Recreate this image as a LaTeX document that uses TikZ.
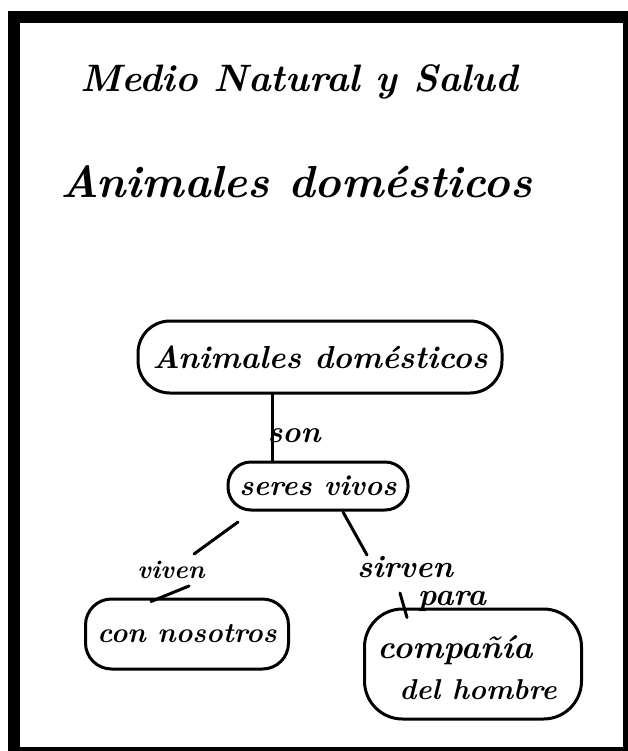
\documentclass[tikz,border=0pt]{standalone}
\usepackage{fontspec}
\newcommand{\hw}[2]{\resizebox{#1}{!}{\bfseries\itshape #2}}
\begin{document}
\begin{tikzpicture}[x=1pt,y=-1pt,
  blob/.style={draw,line width=3pt,rounded corners=#1,inner sep=0pt},
  conn/.style={line width=3pt,line cap=round},
  lbl/.style={inner sep=0pt}]
\useasboundingbox (0,0) rectangle (628,751);
\clip (0,0) rectangle (628,751);
% frame
\fill[black] (8,11.5) rectangle (640,760);
\fill[white] (20,23) rectangle (623,747);
% titles
\node[lbl,anchor=base west] (t1) at (80,92) {\hw{438pt}{Medio Natural y Salud}};
\node[lbl,anchor=base west] (t2) at (60,198) {\hw{472pt}{Animales domésticos}};
% concept nodes
\node[blob=32pt,minimum width=364pt,minimum height=72pt] (A) at (320,357) {\hw{335pt}{Animales domésticos}};
\node[blob=23pt,minimum width=180pt,minimum height=48pt] (S) at (318,486) {\hw{157pt}{seres vivos}};
\node[blob=26pt,minimum width=203pt,minimum height=70pt] (C) at (187,634) {\hw{179pt}{con nosotros}};
\node[blob=38pt,minimum width=217pt,minimum height=110pt] (P) at (473,664) {};
\node[lbl] (P1) at (455,650) {\hw{155pt}{compañía}};
\node[lbl] (P2) at (478,690) {\hw{157pt}{del hombre}};
% link labels
\node[lbl] (son) at (294,436) {\hw{53pt}{son}};
\node[lbl] (viven) at (171,570) {\hw{67pt}{viven}};
\node[lbl] (sirven) at (405,567) {\hw{96pt}{sirven}};
\node[lbl] (para) at (452,601) {\hw{68pt}{para}};
% connectors
\draw[conn] ([xshift=-48pt]A.south) -- ([xshift=-46pt]S.north);
\coordinate (v1) at (238,522);
\coordinate (v2) at (194,554);
\coordinate (v3) at (189,586);
\draw[conn] (v1) -- (v2);
\draw[conn] (v3) -- ([xshift=-36pt,yshift=-4pt]C.north);
\coordinate (r1) at (343,512);
\coordinate (r2) at (367,555);
\coordinate (r3) at (400,593);
\draw[conn] (r1) -- (r2);
\draw[conn] (r3) -- ([xshift=-66pt,yshift=-10pt]P.north);
\end{tikzpicture}
\end{document}
